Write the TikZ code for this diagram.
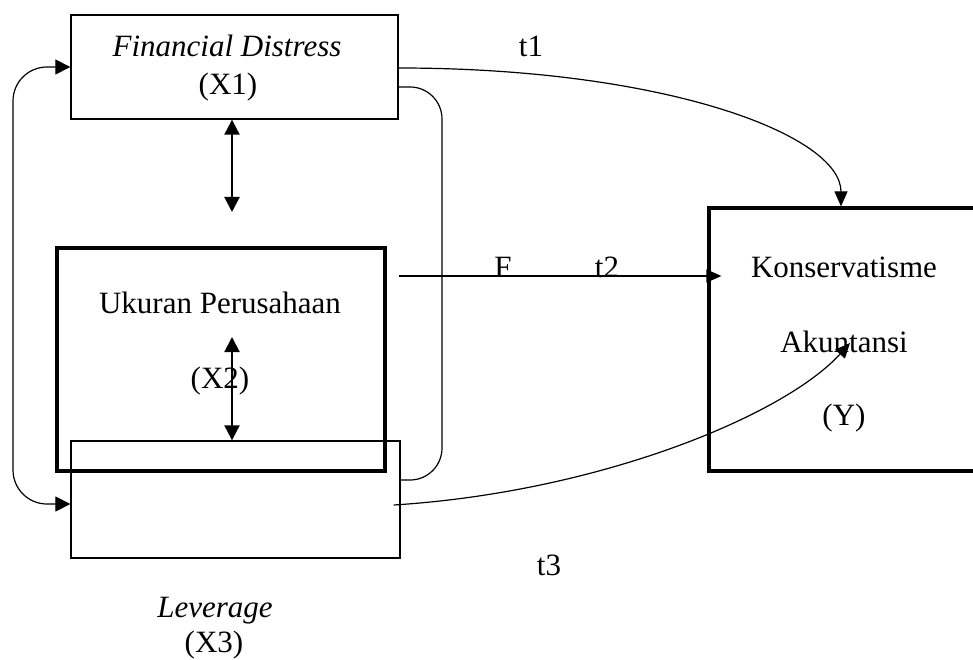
\documentclass[tikz,border=0pt]{standalone}
\usepackage{fontspec}
\setmainfont{Liberation Serif}
\usetikzlibrary{arrows.meta}
\begin{document}
\begin{tikzpicture}[x=1pt,y=-1pt,
  thinbox/.style={draw, line width=1.3pt, inner sep=0pt},
  thickbox/.style={draw, line width=3.2pt, inner sep=0pt},
  lbl/.style={font=\fontsize{31}{37}\selectfont, anchor=base, inner sep=0pt},
  conn/.style={line width=1.2pt},
  tip/.style={-{Triangle[length=15pt,width=13pt]}},
  dtip/.style={{Triangle[length=15pt,width=15pt]}-{Triangle[length=15pt,width=15pt]}}
]
\useasboundingbox (0,0) rectangle (973,660);

% boxes
\node[thinbox, minimum width=327pt, minimum height=104pt] (X1) at (234.5,67) {};
\node[thickbox, minimum width=328pt, minimum height=223pt] (X2) at (221,359.5) {};
\node[thinbox, minimum width=329pt, minimum height=117pt] (X3) at (235.5,499.5) {};
\node[thickbox, minimum width=301pt, minimum height=263pt] (Y) at (859.5,339.5) {};

% texts
\node[lbl] (tx1a) at (227,57) {\itshape Financial Distress};
\node[lbl] (tx1b) at (228,95) {(X1)};
\node[lbl] (tx2a) at (220,313) {Ukuran Perusahaan};
\node[lbl] (tx2b) at (220,388) {(X2)};
\node[lbl] (tx3a) at (215,617) {\itshape Leverage};
\node[lbl] (tx3b) at (214,652) {(X3)};
\node[lbl] (tya) at (844,277) {Konservatisme};
\node[lbl] (tyb) at (844,352) {Akuntansi};
\node[lbl] (tyc) at (844,425) {(Y)};
\node[lbl] (lt1) at (531,57) {t1};
\node[lbl] (lF) at (503,277) {F};
\node[lbl] (lt2) at (607,277) {t2};
\node[lbl] (lt3) at (549,575) {t3};

% helper coordinates
\coordinate (lx) at (13,300);
\coordinate (rx) at (442,300);
\coordinate (t1e) at ([xshift=-18.5pt]Y.north);
\coordinate (t2s) at (399,276);
\coordinate (t3s) at ([xshift=-7pt,yshift=-5.5pt]X3.east);
\coordinate (t3e) at (850,343);
\coordinate (a1e) at (232,212);
\coordinate (a2s) at (232,337);

% left loop (X1 <-> X3)
\draw[conn, dtip, rounded corners=34pt] (X1.west) -| (lx) |- ([yshift=-4.5pt]X3.west);
% right loop (no tips)
\draw[conn, rounded corners=32pt] ([yshift=-20pt]X1.east) -| (rx) |- ([yshift=19.5pt]X3.east);
% t1
\draw[conn, tip] ([yshift=-1pt]X1.east) .. controls (665,68) and (841,135) .. (t1e);
% t2 (F)
\draw[line width=1.5pt, tip] (t2s) -- ([xshift=14pt]t2s -| Y.west);
% t3
\draw[conn, tip] (t3s) .. controls (600,492) and (785,415) .. (t3e);
% vertical double arrows
\draw[line width=2pt, dtip] ([xshift=-2.5pt]X1.south) -- (a1e);
\draw[line width=2pt, dtip] (a2s) -- ([xshift=-3.5pt]X3.north);
\end{tikzpicture}
\end{document}
